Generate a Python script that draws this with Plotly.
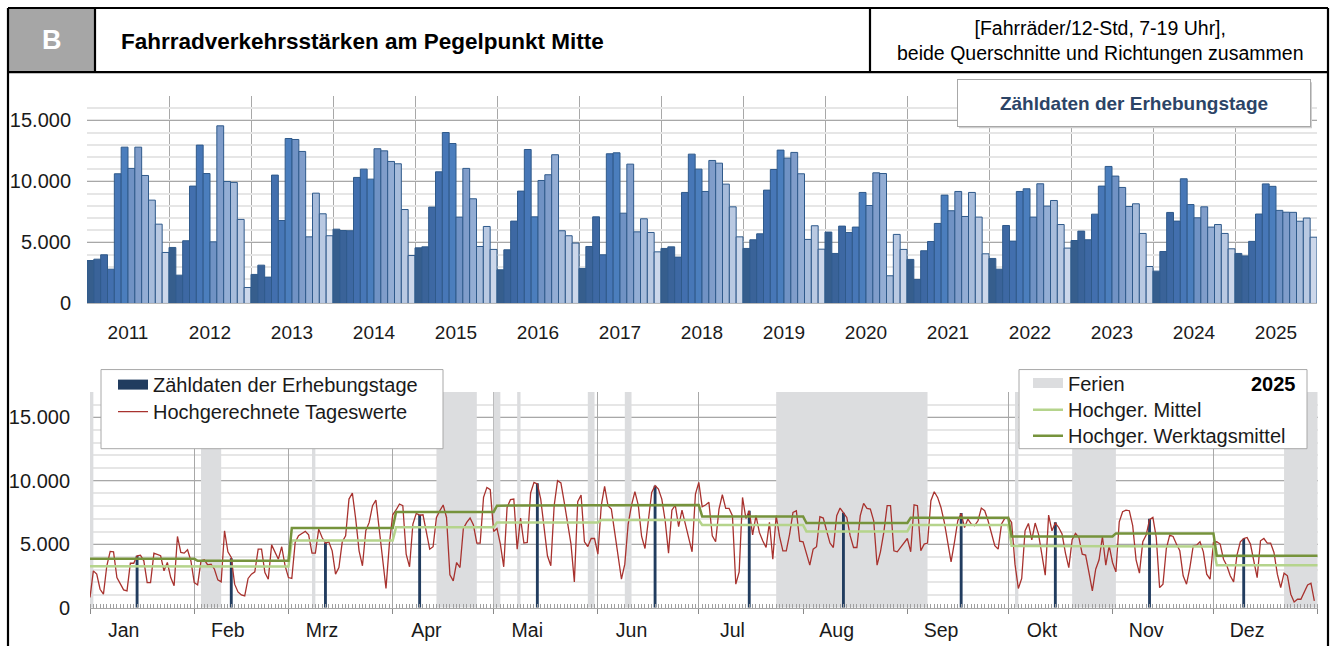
import plotly.graph_objects as go

W, H = 1331, 646          # reference picture size (positions below are measured in it)
H_FIG = 658               # rendered figure height (the capture is squeezed to 646 px)
FONT = "Liberation Sans, Arial, sans-serif"

# ---------------- data ----------------
YEARS = list(range(2011, 2026))
MONTH_LABELS = ["Jan", "Feb", "Mrz", "Apr", "Mai", "Jun", "Jul", "Aug", "Sep", "Okt", "Nov", "Dez"]
MONTH_DAYS_2025 = [31, 28, 31, 30, 31, 30, 31, 31, 30, 31, 30, 31]

counts_2011 = [3520, 3630, 3990, 2810, 10630, 12810, 11070, 12810, 10490, 8470, 6500, 4180]
counts_2012 = [4590, 2320, 5140, 9620, 12980, 10650, 5050, 14560, 10000, 9920, 6890, 1310]
counts_2013 = [2380, 3140, 2160, 10520, 6800, 13520, 13440, 12460, 5460, 9040, 7350, 5550]
counts_2014 = [6090, 5980, 5960, 10330, 11010, 10190, 12680, 12510, 11640, 11450, 7700, 3930]
counts_2015 = [4560, 4640, 7900, 10790, 14010, 13110, 7080, 11070, 8580, 4670, 6310, 4430]
counts_2016 = [2760, 4400, 6750, 9210, 12620, 7100, 10080, 10550, 12190, 5960, 5550, 4950]
counts_2017 = [2870, 4670, 7100, 3990, 12270, 12350, 7400, 11420, 5870, 6940, 5820, 4230]
counts_2018 = [4510, 4640, 3800, 9100, 12240, 11010, 9180, 11720, 11500, 9780, 7920, 5460]
counts_2019 = [4510, 5220, 5710, 9290, 10980, 12570, 11910, 12380, 10630, 5250, 6370, 4450]
counts_2020 = [5850, 4100, 6340, 5820, 6260, 9100, 8030, 10710, 10650, 2270, 5660, 4430]
counts_2021 = [3610, 1970, 4320, 5080, 6560, 8880, 7600, 9180, 7130, 9100, 7080, 4070]
counts_2022 = [3690, 2810, 6390, 5110, 9180, 9400, 7080, 9810, 7980, 8440, 6470, 4540]
counts_2023 = [5160, 5930, 5220, 7320, 9620, 11230, 10440, 9510, 7950, 8170, 5740, 3030]
counts_2024 = [2650, 4260, 7460, 6750, 10220, 8110, 7020, 7920, 6260, 6470, 5740, 4480]
counts_2025 = [4100, 3900, 5090, 7330, 9800, 9600, 7630, 7480, 7470, 6740, 7000, 5430]

ALL_COUNTS = [counts_2011, counts_2012, counts_2013, counts_2014, counts_2015,
              counts_2016, counts_2017, counts_2018, counts_2019, counts_2020,
              counts_2021, counts_2022, counts_2023, counts_2024, counts_2025]

# count days (day of year) in 2025 - one per month
zaehl_days_2025 = [15, 43, 71, 99, 134, 169, 197, 225, 260, 288, 316, 344]

# projected daily values 2025 (day 1 .. 365)
daily_2025 = [
    800, 2900, 2640, 1450, 1060, 3300, 4430, 4400, 2370, 1850,
    1400, 1320, 3500, 3500, 4090, 4140, 3690, 1980, 1980, 4300,
    4220, 4090, 2900, 3560, 2370, 1720, 5610, 4350, 4300, 4560,
    3690, 1980, 1790, 3690, 3770, 3370, 3430, 3030, 2190, 2030,
    6060, 4400, 3950, 1850, 1240, 1000, 930, 2300, 2640, 2820,
    4610, 4610, 2770, 2240, 4950, 4400, 3820, 4800, 3300, 2370,
    2300, 5140, 5670, 5850, 6010, 5740, 4300, 4300, 6190, 5530,
    5090, 5190, 4480, 2640, 3160, 5190, 5670, 8560, 9040, 6980,
    4480, 3300, 6060, 6720, 8040, 8480, 6060, 3560, 1510, 5010,
    7320, 7700,
    8170, 8040, 4220, 3220, 6590, 7430, 7300, 7320, 6060, 4610,
    4800, 7110, 7640, 8090, 7110, 2580, 2110, 3560, 3160, 6240,
    6720, 7060, 6510, 5090, 5090, 8690, 9480, 9300, 6010, 6240,
    5010, 3220, 7900, 8510, 8560, 4610, 7060, 5090, 5140, 9040,
    9880, 9750, 8560, 6320, 4090, 3300, 8040, 10010, 9830, 8300,
    6460, 5010, 2030, 8350, 8880, 5190, 4820, 5450, 5450, 4220,
    8040, 9560, 8040, 7770, 5930, 4090, 2240, 3430, 6590, 8090,
    9140, 8090, 5610, 4660, 6980, 9090, 9620, 9350, 8560, 6850,
    4300, 7690, 8090, 6380, 7690, 6590, 5270, 4400, 8960, 9880,
    7960, 8090,
    8300, 5670, 5190, 7770, 8900, 7820, 7820, 7250, 1850, 2820,
    8690, 7030, 7640, 5740, 7250, 5930, 5270, 4740, 6720, 3820,
    7250, 5610, 4480, 4480, 5800, 7510, 7640, 5240, 5190, 4300,
    3350, 4610, 4800, 7170, 7060, 6060, 5090, 4740, 7250, 7850,
    7510, 7110, 5670, 4740, 4740, 7250, 8220, 7820, 7770, 6850,
    3350, 4400, 5930, 8040, 8040, 4480, 4400, 4740, 5140, 5450,
    4400, 8110, 8040, 4480, 5010, 5090, 8430, 9140, 8690, 7900,
    6720, 5190, 3610, 5140, 6850, 7430, 6320, 6980, 6590, 6460,
    6850, 7850, 7640, 6850, 5930, 4880, 4610, 6590, 7060, 7110,
    6720, 3430,
    1510, 2300, 6060, 6640, 5350, 6670, 5800, 4090, 2560, 7300,
    6060, 6670, 6320, 5800, 4300, 3160, 5350, 5850, 5530, 4220,
    4140, 2770, 1320, 3030, 3770, 5610, 3350, 4880, 3560, 2820,
    6770, 7560, 7690, 7640, 6460, 3770, 2720, 5190, 5720, 6930,
    7110, 5530, 1580, 1850, 4660, 5720, 5610, 5010, 4480, 2510,
    1850, 3160, 4880, 4930, 5190, 4400, 2640, 2240, 5140, 5190,
    5010, 3820, 3300, 2510, 2030, 4140, 5190, 5450, 5530, 5010,
    3820, 2370, 5270, 5450, 5090, 5090, 4350, 2640, 1580, 2720,
    2510, 1060, 450, 660, 660, 1190, 1790, 1930, 530,
]

# monthly projected means 2025
mittel_2025 = [3270, 3240, 5300, 6340, 6720, 6900, 6510, 6010, 6510, 4870, 4830, 3350]
werktag_2025 = [3850, 3690, 6270, 7550, 8040, 8090, 7190, 6670, 7090, 5610, 5850, 4090]

# holidays / school holidays 2025 (first and last day of year, inclusive)
ferien_first_day = [1, 34, 67, 104, 121, 128, 149, 160, 205, 276, 293, 356]
ferien_last_day = [1, 39, 67, 115, 122, 128, 150, 161, 249, 276, 305, 365]

# ---------------- styles ----------------
MONTH_COLORS = ["#365e8d", "#3a6399", "#3d68a3", "#426fae", "#4777b7", "#4b7ebd",
                "#7092c4", "#809dca", "#93add4", "#a7bcdb", "#b9c9e2", "#ccd7ea"]
BAR_EDGE = "#2f5a8b"
NAVY = "#213c5f"
RED = "#a8322e"
LIGHT_GREEN = "#b5d48c"
DARK_GREEN = "#76933c"
FERIEN_GRAY = "#dcdddf"
GRID_MAJOR = "#a8a8a8"
GRID_MINOR = "#e6e6e6"
Y_MAX = 17000


def px_x(p):
    return p / W


def px_y(p):
    return 1 - p / H


fig = go.Figure()

# ---------------- top chart: monthly bars per year ----------------
bar_x, bar_y, bar_c = [], [], []
for i, vals in enumerate(ALL_COUNTS):
    for m, v in enumerate(vals):
        bar_x.append(i * 12 + m + 0.5)
        bar_y.append(v)
        bar_c.append(MONTH_COLORS[m])

fig.add_trace(go.Bar(x=bar_x, y=bar_y, width=1,
                     marker=dict(color=bar_c, line=dict(color=BAR_EDGE, width=1)),
                     xaxis="x", yaxis="y", showlegend=False, hoverinfo="skip"))

# ---------------- bottom chart ----------------
month_start = [0]
for d in MONTH_DAYS_2025:
    month_start.append(month_start[-1] + d)

f_x0 = [a - 1 for a in ferien_first_day]
f_x1 = [b for b in ferien_last_day]
fig.add_trace(go.Bar(x=[(a + b) / 2 for a, b in zip(f_x0, f_x1)],
                     y=[Y_MAX] * len(f_x0),
                     width=[b - a for a, b in zip(f_x0, f_x1)],
                     marker=dict(color=FERIEN_GRAY, line=dict(width=0)),
                     xaxis="x2", yaxis="y2", showlegend=False, hoverinfo="skip"))

fig.add_trace(go.Bar(x=[d - 1 for d in zaehl_days_2025], y=counts_2025, width=0.85,
                     marker=dict(color=NAVY, line=dict(width=0)),
                     xaxis="x2", yaxis="y2", showlegend=False))

# lines live on the overlaying axis x3 (same range as x2) so they are drawn on top
fig.add_trace(go.Scatter(x=list(range(len(daily_2025))), y=daily_2025, mode="lines",
                         line=dict(color=RED, width=1.3),
                         name="Hochgerechnete Tageswerte", legend="legend2",
                         xaxis="x3", yaxis="y2"))


def month_of(xv):
    day = max(xv, 1)
    for m in range(12):
        if month_start[m] < day <= month_start[m + 1]:
            return m
    return 11


xs = list(range(0, 366))
fig.add_trace(go.Scatter(x=xs, y=[mittel_2025[month_of(v)] for v in xs], mode="lines",
                         line=dict(color=LIGHT_GREEN, width=2.5),
                         name="Hochger. Mittel", legend="legend4",
                         xaxis="x3", yaxis="y2"))
fig.add_trace(go.Scatter(x=xs, y=[werktag_2025[month_of(v)] for v in xs], mode="lines",
                         line=dict(color=DARK_GREEN, width=2.5),
                         name="Hochger. Werktagsmittel", legend="legend5",
                         xaxis="x3", yaxis="y2"))

# legend proxies for rectangular swatches
fig.add_trace(go.Scatter(x=[None], y=[None], mode="lines", line=dict(color=NAVY, width=10),
                         name="Zähldaten der Erhebungstage", legend="legend",
                         xaxis="x3", yaxis="y2"))
fig.add_trace(go.Scatter(x=[None], y=[None], mode="lines", line=dict(color=FERIEN_GRAY, width=10),
                         name="Ferien", legend="legend3",
                         xaxis="x3", yaxis="y2"))

# ---------------- axes ----------------
tick_font = dict(family=FONT, size=20, color="#1a1a1a")

fig.update_layout(
    xaxis=dict(domain=[px_x(87), px_x(1317)], anchor="y", range=[0, 180],
               tickvals=[i * 12 + 6 for i in range(len(YEARS))],
               ticktext=[str(y) for y in YEARS], ticks="", showgrid=False,
               minor=dict(tickvals=[i * 12 for i in range(len(YEARS) + 1)], showgrid=True,
                          gridcolor=GRID_MAJOR, gridwidth=1, ticks=""),
               showline=True, linecolor="#b8b8b8", linewidth=1, zeroline=False,
               tickfont=dict(family=FONT, size=19, color="#1a1a1a"),
               ticklabelstandoff=12, fixedrange=True),
    yaxis=dict(domain=[px_y(303), px_y(95.9)], anchor="x", range=[0, Y_MAX],
               tickvals=[0, 5000, 10000, 15000], tickformat=",d", ticks="",
               showgrid=True, gridcolor=GRID_MAJOR, gridwidth=1,
               minor=dict(dtick=1000, tick0=0, showgrid=True, gridcolor=GRID_MINOR, gridwidth=2, ticks=""),
               zeroline=False, tickfont=tick_font, ticklabelstandoff=15, fixedrange=True),
    xaxis2=dict(domain=[px_x(90), px_x(1317.7)], anchor="y2", range=[0, 365],
                tickvals=month_start, ticktext=[""] * len(month_start),
                ticks="outside", ticklen=5, tickcolor="#8a8a8a", tickwidth=1,
                showgrid=True, gridcolor=GRID_MAJOR, gridwidth=1,
                minor=dict(dtick=1, tick0=0, ticks="inside", ticklen=4, tickcolor="#a0a0a0",
                           tickwidth=1, showgrid=False),
                showline=True, linecolor="#a8a8a8", zeroline=False, fixedrange=True),
    xaxis3=dict(overlaying="x2", anchor="y2", range=[0, 365],
                tickvals=[s + 10 for s in month_start[:12]], ticktext=MONTH_LABELS,
                ticks="", showgrid=False, showline=False, zeroline=False,
                tickfont=dict(family=FONT, size=19.5, color="#1a1a1a"),
                ticklabelstandoff=9, fixedrange=True),
    yaxis2=dict(domain=[px_y(606.7), px_y(391.4)], anchor="x2", range=[0, Y_MAX],
                tickvals=[0, 5000, 10000, 15000], tickformat=",d", ticks="",
                showgrid=True, gridcolor=GRID_MAJOR, gridwidth=1,
                minor=dict(dtick=1000, tick0=0, showgrid=True, gridcolor=GRID_MINOR, gridwidth=2, ticks=""),
                zeroline=False, tickfont=tick_font, ticklabelstandoff=19, fixedrange=True),
)

# ---------------- legends (one entry each, placed row by row) ----------------
leg_common = dict(bgcolor="rgba(0,0,0,0)", borderwidth=0, xanchor="left", yanchor="middle",
                  font=dict(family=FONT, size=20, color="#1a1a1a"), itemwidth=30,
                  orientation="v")
fig.update_layout(
    legend=dict(x=px_x(113), y=px_y(384), **leg_common),
    legend2=dict(x=px_x(113), y=px_y(411), **leg_common),
    legend3=dict(x=px_x(1028), y=px_y(382.5), **leg_common),
    legend4=dict(x=px_x(1028), y=px_y(409), **leg_common),
    legend5=dict(x=px_x(1028), y=px_y(435), **leg_common),
)

# ---------------- shapes: header frame + legend boxes ----------------
shapes = []
shapes.append(dict(type="rect", xref="paper", yref="paper", x0=px_x(8), x1=px_x(95),
                   y0=px_y(72), y1=px_y(8), fillcolor="#a6a6a6", line=dict(width=0), layer="above"))
frame = [((8, 8), (1328, 8)), ((8, 72), (1328, 72)), ((8, 8), (8, 646)), ((1328, 8), (1328, 646)),
         ((95, 8), (95, 72)), ((870, 8), (870, 72))]
for (a, b), (c, d) in frame:
    shapes.append(dict(type="line", xref="paper", yref="paper", x0=px_x(a), y0=px_y(b),
                       x1=px_x(c), y1=px_y(d), line=dict(color="black", width=2.2), layer="above"))
for x0, x1 in [(101, 443), (1019, 1307)]:
    shapes.append(dict(type="rect", xref="paper", yref="paper", x0=px_x(x0), x1=px_x(x1),
                       y0=px_y(448), y1=px_y(369), fillcolor="white",
                       line=dict(color="#a8a8a8", width=1), layer="above"))
shapes.append(dict(type="rect", xref="paper", yref="paper", x0=px_x(959), x1=px_x(1312),
                   y0=px_y(128), y1=px_y(82), fillcolor="#cfcfcf", line=dict(width=0), layer="above"))
fig.update_layout(shapes=shapes)

# ---------------- annotations ----------------
ann = [
    dict(x=px_x(51.5), y=px_y(40), text="<b>B</b>", showarrow=False, xanchor="center", yanchor="middle",
         font=dict(family=FONT, size=27, color="white")),
    dict(x=px_x(119), y=px_y(41), text="<b>Fahrradverkehrsstärken am Pegelpunkt Mitte</b>",
         showarrow=False, xanchor="left", yanchor="middle",
         font=dict(family=FONT, size=22.5, color="black")),
    dict(x=px_x(1100), y=px_y(40), text="[Fahrräder/12-Std, 7-19 Uhr],<br>beide Querschnitte und Richtungen zusammen",
         showarrow=False, xanchor="center", yanchor="middle", align="center",
         font=dict(family=FONT, size=19.5, color="black")),
    dict(x=px_x(1133.5), y=px_y(103), text="<b>Zähldaten der Erhebungstage</b>", showarrow=False,
         xanchor="center", yanchor="middle", width=350, height=44, bgcolor="white",
         bordercolor="#a8a8a8", borderwidth=1, borderpad=1,
         font=dict(family=FONT, size=19, color="#2c4466")),
    dict(x=px_x(1298), y=px_y(383), text="<b>2025</b>", showarrow=False, xanchor="right", yanchor="middle",
         font=dict(family=FONT, size=20, color="black")),
]
for a in ann:
    a.setdefault("xref", "paper")
    a.setdefault("yref", "paper")
fig.update_layout(annotations=ann)

fig.update_layout(width=W, height=H_FIG, margin=dict(l=0, r=0, t=0, b=0),
                  paper_bgcolor="white", plot_bgcolor="white", barmode="overlay",
                  separators=",.", showlegend=True, hovermode=False,
                  font=dict(family=FONT))

# remove the default page margin
PAGE_FIX = ("var s=document.createElement('style');"
            "s.textContent='html,body{margin:0;padding:0;overflow:hidden;}';"
            "document.head.appendChild(s);")

fig.write_html("out.html", config={"displayModeBar": False}, post_script=PAGE_FIX)
